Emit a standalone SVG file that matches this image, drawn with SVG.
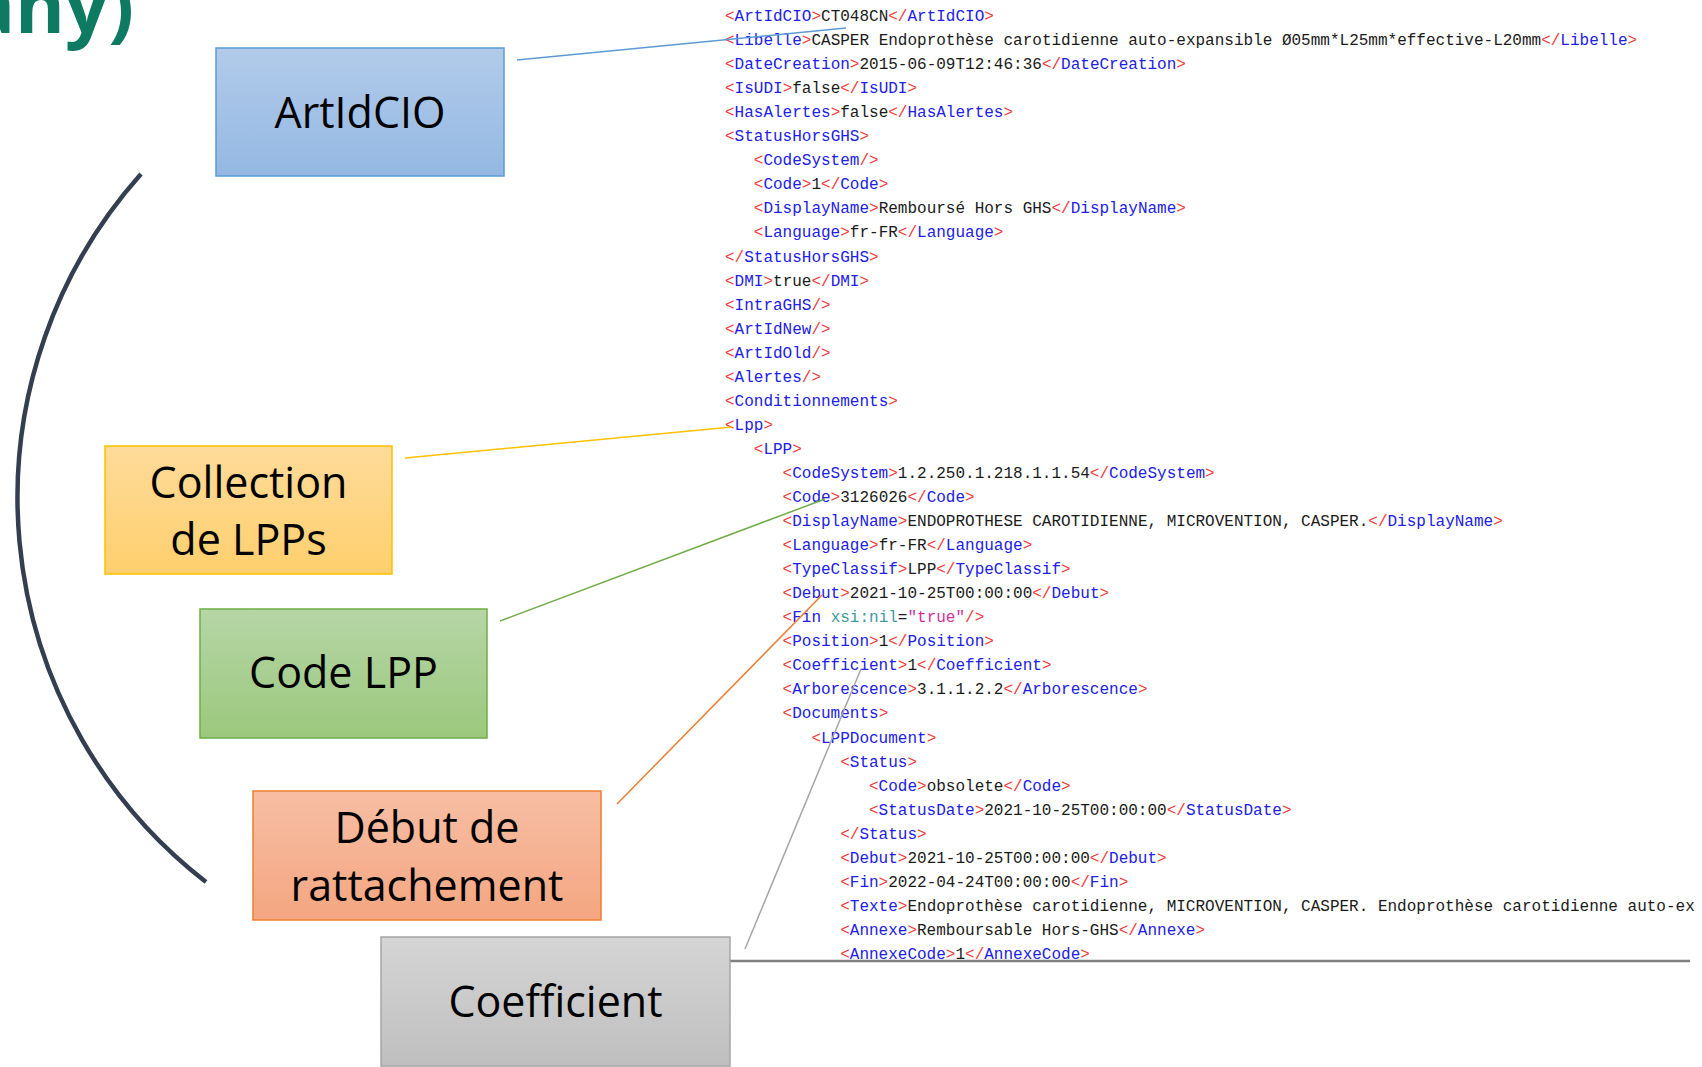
<svg xmlns="http://www.w3.org/2000/svg" width="1702" height="1067" viewBox="0 0 1702 1067">
<defs>
<linearGradient id="gBlue" x1="0" y1="0" x2="0" y2="1"><stop offset="0" stop-color="#b2cbea"/><stop offset="1" stop-color="#94b8e3"/></linearGradient>
<linearGradient id="gGold" x1="0" y1="0" x2="0" y2="1"><stop offset="0" stop-color="#fedb9a"/><stop offset="1" stop-color="#fecf6c"/></linearGradient>
<linearGradient id="gGreen" x1="0" y1="0" x2="0" y2="1"><stop offset="0" stop-color="#b6d6a6"/><stop offset="1" stop-color="#9bc87d"/></linearGradient>
<linearGradient id="gOrange" x1="0" y1="0" x2="0" y2="1"><stop offset="0" stop-color="#f7bea4"/><stop offset="1" stop-color="#f4a681"/></linearGradient>
<linearGradient id="gGray" x1="0" y1="0" x2="0" y2="1"><stop offset="0" stop-color="#d5d5d5"/><stop offset="1" stop-color="#bfbfbf"/></linearGradient>
</defs>
<style>
.x{font-family:"Liberation Mono","Courier New",monospace;font-size:16px;fill:#1a1a1a}
.b{fill:#f23a3a}
.t{fill:#2020e8}
.an{fill:#3f9a9a}
.av{fill:#d0309a}
.lbl{font-family:"Open Sans","Noto Sans",sans-serif;font-size:43px;fill:#000;text-anchor:middle}
.conn{fill:none;stroke-width:1.5}
</style>
<rect width="1702" height="1067" fill="#ffffff"/>

<text x="134" y="33" font-family="Open Sans, sans-serif" font-weight="bold" font-size="76" fill="#0f7a62" text-anchor="end">many)</text>

<path d="M141,174 A486,486 0 0 0 206,882" fill="none" stroke="#333f50" stroke-width="4.5"/>

<g id="xml" class="x">
<text x="725" y="21"><tspan class="b">&lt;</tspan><tspan class="t">ArtIdCIO</tspan><tspan class="b">&gt;</tspan>CT048CN<tspan class="b">&lt;/</tspan><tspan class="t">ArtIdCIO</tspan><tspan class="b">&gt;</tspan></text>
<text x="725" y="45.05"><tspan class="b">&lt;</tspan><tspan class="t">Libelle</tspan><tspan class="b">&gt;</tspan>CASPER Endoprothèse carotidienne auto-expansible Ø05mm*L25mm*effective-L20mm<tspan class="b">&lt;/</tspan><tspan class="t">Libelle</tspan><tspan class="b">&gt;</tspan></text>
<text x="725" y="69.1"><tspan class="b">&lt;</tspan><tspan class="t">DateCreation</tspan><tspan class="b">&gt;</tspan>2015-06-09T12:46:36<tspan class="b">&lt;/</tspan><tspan class="t">DateCreation</tspan><tspan class="b">&gt;</tspan></text>
<text x="725" y="93.15"><tspan class="b">&lt;</tspan><tspan class="t">IsUDI</tspan><tspan class="b">&gt;</tspan>false<tspan class="b">&lt;/</tspan><tspan class="t">IsUDI</tspan><tspan class="b">&gt;</tspan></text>
<text x="725" y="117.2"><tspan class="b">&lt;</tspan><tspan class="t">HasAlertes</tspan><tspan class="b">&gt;</tspan>false<tspan class="b">&lt;/</tspan><tspan class="t">HasAlertes</tspan><tspan class="b">&gt;</tspan></text>
<text x="725" y="141.25"><tspan class="b">&lt;</tspan><tspan class="t">StatusHorsGHS</tspan><tspan class="b">&gt;</tspan></text>
<text x="753.8" y="165.3"><tspan class="b">&lt;</tspan><tspan class="t">CodeSystem</tspan><tspan class="b">/&gt;</tspan></text>
<text x="753.8" y="189.35"><tspan class="b">&lt;</tspan><tspan class="t">Code</tspan><tspan class="b">&gt;</tspan>1<tspan class="b">&lt;/</tspan><tspan class="t">Code</tspan><tspan class="b">&gt;</tspan></text>
<text x="753.8" y="213.4"><tspan class="b">&lt;</tspan><tspan class="t">DisplayName</tspan><tspan class="b">&gt;</tspan>Remboursé Hors GHS<tspan class="b">&lt;/</tspan><tspan class="t">DisplayName</tspan><tspan class="b">&gt;</tspan></text>
<text x="753.8" y="237.45"><tspan class="b">&lt;</tspan><tspan class="t">Language</tspan><tspan class="b">&gt;</tspan>fr-FR<tspan class="b">&lt;/</tspan><tspan class="t">Language</tspan><tspan class="b">&gt;</tspan></text>
<text x="725" y="261.5"><tspan class="b">&lt;/</tspan><tspan class="t">StatusHorsGHS</tspan><tspan class="b">&gt;</tspan></text>
<text x="725" y="285.55"><tspan class="b">&lt;</tspan><tspan class="t">DMI</tspan><tspan class="b">&gt;</tspan>true<tspan class="b">&lt;/</tspan><tspan class="t">DMI</tspan><tspan class="b">&gt;</tspan></text>
<text x="725" y="309.6"><tspan class="b">&lt;</tspan><tspan class="t">IntraGHS</tspan><tspan class="b">/&gt;</tspan></text>
<text x="725" y="333.65"><tspan class="b">&lt;</tspan><tspan class="t">ArtIdNew</tspan><tspan class="b">/&gt;</tspan></text>
<text x="725" y="357.7"><tspan class="b">&lt;</tspan><tspan class="t">ArtIdOld</tspan><tspan class="b">/&gt;</tspan></text>
<text x="725" y="381.75"><tspan class="b">&lt;</tspan><tspan class="t">Alertes</tspan><tspan class="b">/&gt;</tspan></text>
<text x="725" y="405.8"><tspan class="b">&lt;</tspan><tspan class="t">Conditionnements</tspan><tspan class="b">&gt;</tspan></text>
<text x="725" y="429.85"><tspan class="b">&lt;</tspan><tspan class="t">Lpp</tspan><tspan class="b">&gt;</tspan></text>
<text x="753.8" y="453.9"><tspan class="b">&lt;</tspan><tspan class="t">LPP</tspan><tspan class="b">&gt;</tspan></text>
<text x="782.6" y="477.95"><tspan class="b">&lt;</tspan><tspan class="t">CodeSystem</tspan><tspan class="b">&gt;</tspan>1.2.250.1.218.1.1.54<tspan class="b">&lt;/</tspan><tspan class="t">CodeSystem</tspan><tspan class="b">&gt;</tspan></text>
<text x="782.6" y="502"><tspan class="b">&lt;</tspan><tspan class="t">Code</tspan><tspan class="b">&gt;</tspan>3126026<tspan class="b">&lt;/</tspan><tspan class="t">Code</tspan><tspan class="b">&gt;</tspan></text>
<text x="782.6" y="526.05"><tspan class="b">&lt;</tspan><tspan class="t">DisplayName</tspan><tspan class="b">&gt;</tspan>ENDOPROTHESE CAROTIDIENNE, MICROVENTION, CASPER.<tspan class="b">&lt;/</tspan><tspan class="t">DisplayName</tspan><tspan class="b">&gt;</tspan></text>
<text x="782.6" y="550.1"><tspan class="b">&lt;</tspan><tspan class="t">Language</tspan><tspan class="b">&gt;</tspan>fr-FR<tspan class="b">&lt;/</tspan><tspan class="t">Language</tspan><tspan class="b">&gt;</tspan></text>
<text x="782.6" y="574.15"><tspan class="b">&lt;</tspan><tspan class="t">TypeClassif</tspan><tspan class="b">&gt;</tspan>LPP<tspan class="b">&lt;/</tspan><tspan class="t">TypeClassif</tspan><tspan class="b">&gt;</tspan></text>
<text x="782.6" y="598.2"><tspan class="b">&lt;</tspan><tspan class="t">Debut</tspan><tspan class="b">&gt;</tspan>2021-10-25T00:00:00<tspan class="b">&lt;/</tspan><tspan class="t">Debut</tspan><tspan class="b">&gt;</tspan></text>
<text x="782.6" y="622.25"><tspan class="b">&lt;</tspan><tspan class="t">Fin</tspan> <tspan class="an">xsi:nil</tspan>=<tspan class="av">"true"</tspan><tspan class="b">/&gt;</tspan></text>
<text x="782.6" y="646.3"><tspan class="b">&lt;</tspan><tspan class="t">Position</tspan><tspan class="b">&gt;</tspan>1<tspan class="b">&lt;/</tspan><tspan class="t">Position</tspan><tspan class="b">&gt;</tspan></text>
<text x="782.6" y="670.35"><tspan class="b">&lt;</tspan><tspan class="t">Coefficient</tspan><tspan class="b">&gt;</tspan>1<tspan class="b">&lt;/</tspan><tspan class="t">Coefficient</tspan><tspan class="b">&gt;</tspan></text>
<text x="782.6" y="694.4"><tspan class="b">&lt;</tspan><tspan class="t">Arborescence</tspan><tspan class="b">&gt;</tspan>3.1.1.2.2<tspan class="b">&lt;/</tspan><tspan class="t">Arborescence</tspan><tspan class="b">&gt;</tspan></text>
<text x="782.6" y="718.45"><tspan class="b">&lt;</tspan><tspan class="t">Documents</tspan><tspan class="b">&gt;</tspan></text>
<text x="811.4" y="742.5"><tspan class="b">&lt;</tspan><tspan class="t">LPPDocument</tspan><tspan class="b">&gt;</tspan></text>
<text x="840.2" y="766.55"><tspan class="b">&lt;</tspan><tspan class="t">Status</tspan><tspan class="b">&gt;</tspan></text>
<text x="869" y="790.6"><tspan class="b">&lt;</tspan><tspan class="t">Code</tspan><tspan class="b">&gt;</tspan>obsolete<tspan class="b">&lt;/</tspan><tspan class="t">Code</tspan><tspan class="b">&gt;</tspan></text>
<text x="869" y="814.65"><tspan class="b">&lt;</tspan><tspan class="t">StatusDate</tspan><tspan class="b">&gt;</tspan>2021-10-25T00:00:00<tspan class="b">&lt;/</tspan><tspan class="t">StatusDate</tspan><tspan class="b">&gt;</tspan></text>
<text x="840.2" y="838.7"><tspan class="b">&lt;/</tspan><tspan class="t">Status</tspan><tspan class="b">&gt;</tspan></text>
<text x="840.2" y="862.75"><tspan class="b">&lt;</tspan><tspan class="t">Debut</tspan><tspan class="b">&gt;</tspan>2021-10-25T00:00:00<tspan class="b">&lt;/</tspan><tspan class="t">Debut</tspan><tspan class="b">&gt;</tspan></text>
<text x="840.2" y="886.8"><tspan class="b">&lt;</tspan><tspan class="t">Fin</tspan><tspan class="b">&gt;</tspan>2022-04-24T00:00:00<tspan class="b">&lt;/</tspan><tspan class="t">Fin</tspan><tspan class="b">&gt;</tspan></text>
<text x="840.2" y="910.85"><tspan class="b">&lt;</tspan><tspan class="t">Texte</tspan><tspan class="b">&gt;</tspan>Endoprothèse carotidienne, MICROVENTION, CASPER. Endoprothèse carotidienne auto-ex</text>
<text x="840.2" y="934.9"><tspan class="b">&lt;</tspan><tspan class="t">Annexe</tspan><tspan class="b">&gt;</tspan>Remboursable Hors-GHS<tspan class="b">&lt;/</tspan><tspan class="t">Annexe</tspan><tspan class="b">&gt;</tspan></text>
<text x="840.2" y="958.9"><tspan class="b">&lt;</tspan><tspan class="t">AnnexeCode</tspan><tspan class="b">&gt;</tspan>1<tspan class="b">&lt;/</tspan><tspan class="t">AnnexeCode</tspan><tspan class="b">&gt;</tspan></text>
</g>

<line x1="730" y1="961" x2="1690" y2="961" stroke="#808080" stroke-width="2.5"/>

<g id="connectors">
<line class="conn" x1="517" y1="60" x2="846" y2="28" stroke="#5b9bd5"/>
<line class="conn" x1="405" y1="458" x2="732" y2="427" stroke="#ffc000"/>
<line class="conn" x1="500" y1="621" x2="825" y2="499" stroke="#70ad47"/>
<line class="conn" x1="617" y1="804" x2="822" y2="595" stroke="#ed7d31"/>
<line class="conn" x1="745" y1="949" x2="861" y2="669" stroke="#a5a5a5"/>
</g>

<g id="node-artidcio">
<rect x="216" y="48" width="288" height="128" fill="url(#gBlue)" stroke="#5b9bd5" stroke-width="1.5"/>
<text class="lbl" x="360" y="128">ArtIdCIO</text>
</g>
<g id="node-collection">
<rect x="105" y="446" width="287" height="128" fill="url(#gGold)" stroke="#ffc000" stroke-width="1.5"/>
<text class="lbl" x="248.5" y="498">Collection</text>
<text class="lbl" x="248.5" y="555">de LPPs</text>
</g>
<g id="node-codelpp">
<rect x="200" y="609" width="287" height="129" fill="url(#gGreen)" stroke="#70ad47" stroke-width="1.5"/>
<text class="lbl" x="343.5" y="688">Code LPP</text>
</g>
<g id="node-debut">
<rect x="253" y="791" width="348" height="129" fill="url(#gOrange)" stroke="#ed7d31" stroke-width="1.5"/>
<text class="lbl" x="427" y="843">Début de</text>
<text class="lbl" x="427" y="901">rattachement</text>
</g>
<g id="node-coefficient">
<rect x="381" y="937" width="349" height="129" fill="url(#gGray)" stroke="#a5a5a5" stroke-width="1.5"/>
<text class="lbl" x="555.5" y="1017">Coefficient</text>
</g>
</svg>
